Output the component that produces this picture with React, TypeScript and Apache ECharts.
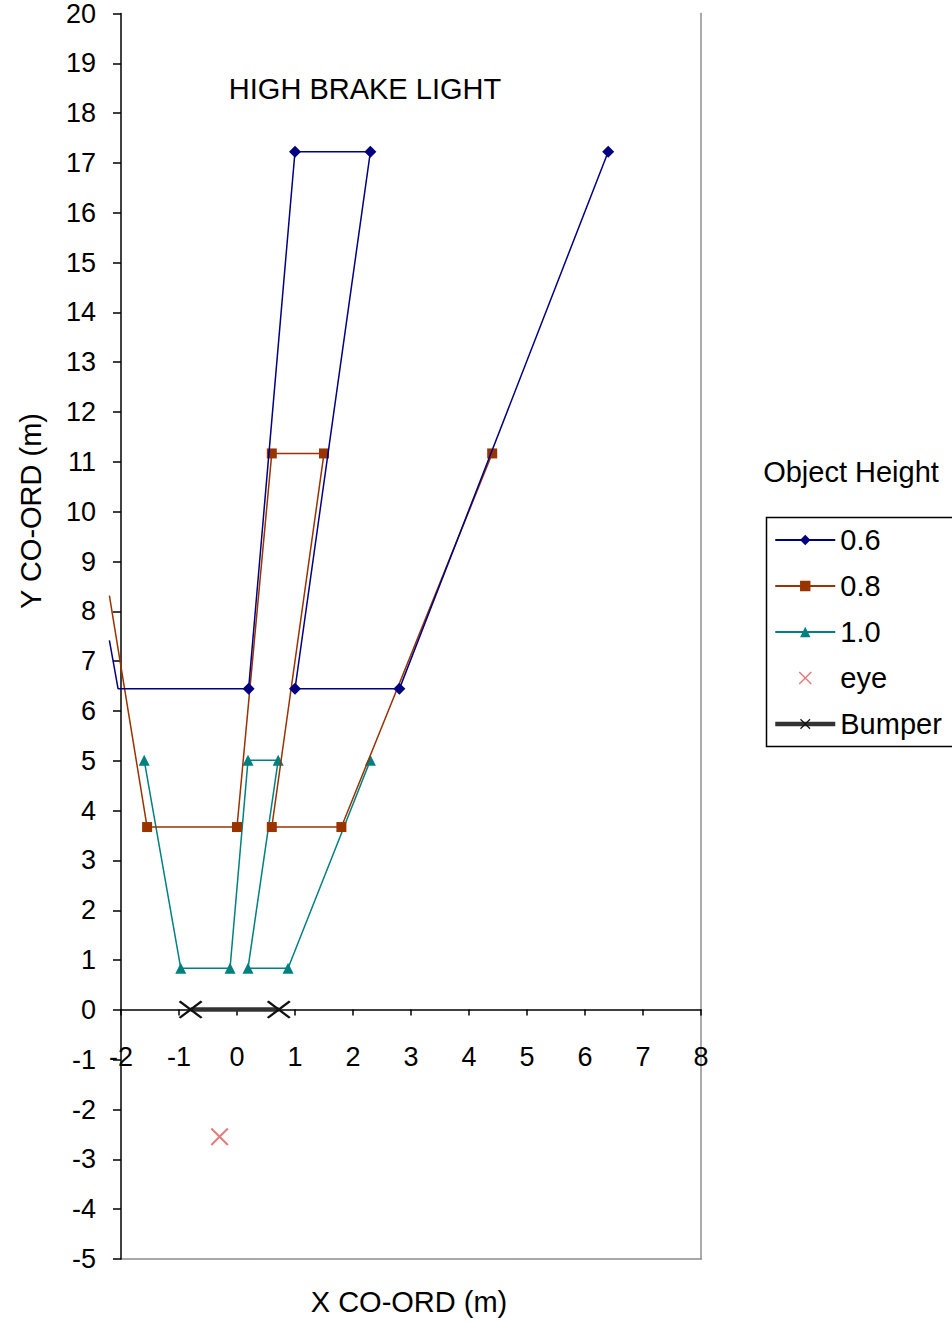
import React, { useEffect, useRef } from 'react';
import * as echarts from 'echarts';

const FONT = '"Liberation Sans", Arial, Helvetica, sans-serif';

// Axis ranges / ticks
const xMin = -2;
const xMax = 8;
const yMin = -5;
const yMax = 20;
const tickStep = 1;
// lines are drawn a little beyond the left axis (as in the original chart)
const lineClipXMin = -2.2;

// Series names (legend order)
const seriesNames = ['0.6', '0.8', '1.0', 'eye', 'Bumper'];

// Object height 0.6
const h06X = [-2.2, -2.05, 0.2, 1.0, 2.3, 1.0, 2.8, 6.4];
const h06Y = [7.4, 6.43, 6.43, 17.2, 17.2, 6.43, 6.43, 17.2];
const h06Marked = [false, false, true, true, true, true, true, true];

// Object height 0.8
const h08X = [-2.2, -1.55, 0.0, 0.6, 1.5, 0.6, 1.8, 4.4];
const h08Y = [8.3, 3.66, 3.66, 11.15, 11.15, 3.66, 3.66, 11.15];
const h08Marked = [false, true, true, true, true, true, true, true];

// Object height 1.0
const h10X = [-1.6, -0.97, -0.12, 0.19, 0.71, 0.19, 0.88, 2.3];
const h10Y = [5.0, 0.83, 0.83, 5.0, 5.0, 0.83, 0.83, 5.0];

// Eye position
const eyeX = [-0.3];
const eyeY = [-2.55];

// Bumper
const bumperX = [-0.8, 0.72];
const bumperY = [0, 0];

const titleText = 'HIGH BRAKE LIGHT';
const xTitle = 'X CO-ORD (m)';
const yTitle = 'Y CO-ORD (m)';
const legendTitle = 'Object Height';

const C06 = '#000080';
const C08 = '#993300';
const C10 = '#008080';
const CEYE = '#e05a5a';
const CBUMP = '#333333';

const CROSS = 'path://M0,0.8L0.8,0L10,9.2L9.2,10Z M9.2,0L10,0.8L0.8,10L0,9.2Z';

// plot area layout
const GL = 121;
const GT = 12;
const GW = 580;
const GH = 1247;
const pxPerX = GW / (xMax - xMin);
const GL2 = GL - (xMin - lineClipXMin) * pxPerX;
const GW2 = GW + (xMin - lineClipXMin) * pxPerX;
const zeroOffset = -((0 - yMin) / (yMax - yMin)) * GH;

function pts(xs: number[], ys: number[], marked?: boolean[]) {
  return xs.map((x, i) => {
    const item: any = { value: [x, ys[i]] };
    if (marked && !marked[i]) item.symbol = 'none';
    return item;
  });
}

export default function App() {
  const ref = useRef<HTMLDivElement>(null);
  useEffect(() => {
    const chart = echarts.init(ref.current!, null, { renderer: 'svg' });
    const textStyle = (text: string) => ({
      text,
      fontSize: 29,
      fontFamily: FONT,
      fill: '#000',
      align: 'center',
      verticalAlign: 'middle',
      textAlign: 'center',
      textVerticalAlign: 'middle',
    });
    const option: any = {
      animation: false,
      backgroundColor: '#ffffff',
      textStyle: { fontFamily: FONT },
      grid: [
        { left: GL, top: GT, width: GW, height: GH, show: false },
        { left: GL2, top: GT, width: GW2, height: GH, show: false },
      ],
      xAxis: [
        {
          type: 'value',
          gridIndex: 0,
          min: xMin,
          max: xMax,
          interval: tickStep,
          position: 'bottom',
          offset: zeroOffset,
          axisLine: { show: true, onZero: false, lineStyle: { color: '#000', width: 1.5 } },
          axisTick: { show: true, inside: false, length: 6, lineStyle: { color: '#000', width: 1.5 } },
          axisLabel: { show: true, margin: 34, color: '#000', fontSize: 27, fontFamily: FONT },
          splitLine: { show: false },
          z: 3,
        },
        {
          type: 'value',
          gridIndex: 0,
          min: xMin,
          max: xMax,
          interval: tickStep,
          position: 'bottom',
          axisLine: { show: true, onZero: false, lineStyle: { color: '#8c8c8c', width: 1.5 } },
          axisTick: { show: false },
          axisLabel: { show: false },
          splitLine: { show: false },
        },
        {
          type: 'value',
          gridIndex: 1,
          min: lineClipXMin,
          max: xMax,
          show: false,
          axisLine: { onZero: false },
          splitLine: { show: false },
        },
      ],
      yAxis: [
        {
          type: 'value',
          gridIndex: 0,
          min: yMin,
          max: yMax,
          interval: tickStep,
          position: 'left',
          axisLine: { show: true, onZero: false, lineStyle: { color: '#000', width: 1.5 } },
          axisTick: { show: true, inside: false, length: 8, lineStyle: { color: '#000', width: 1.5 } },
          axisLabel: { show: true, margin: 25, color: '#000', fontSize: 27, fontFamily: FONT },
          splitLine: { show: false },
          z: 3,
        },
        {
          type: 'value',
          gridIndex: 0,
          min: yMin,
          max: yMax,
          interval: tickStep,
          position: 'right',
          axisLine: { show: true, onZero: false, lineStyle: { color: '#8c8c8c', width: 1.5 } },
          axisTick: { show: false },
          axisLabel: { show: false },
          splitLine: { show: false },
        },
        {
          type: 'value',
          gridIndex: 1,
          min: yMin,
          max: yMax,
          show: false,
          axisLine: { onZero: false },
          splitLine: { show: false },
        },
      ],
      legend: {
        orient: 'vertical',
        left: 773,
        top: 525,
        padding: 0,
        itemWidth: 60,
        itemHeight: 13,
        itemGap: 16,
        data: seriesNames.map((n, i) =>
          i === 4 ? { name: n, lineStyle: { width: 4.5, color: CBUMP } } : { name: n }
        ),
        textStyle: { fontSize: 29, lineHeight: 30, color: '#000', fontFamily: FONT },
      },
      graphic: [
        {
          type: 'rect',
          left: 764,
          top: 515,
          shape: { width: 220, height: 229 },
          style: { fill: 'none', stroke: '#000', lineWidth: 1.5 },
          silent: true,
        },
        { type: 'text', x: 365, y: 89, style: textStyle(titleText) },
        { type: 'text', x: 409, y: 1302, style: textStyle(xTitle) },
        { type: 'text', x: 31, y: 511, rotation: Math.PI / 2, style: textStyle(yTitle) },
        { type: 'text', x: 851, y: 472, style: textStyle(legendTitle) },
      ],
      series: [
        {
          name: seriesNames[0],
          type: 'line',
          xAxisIndex: 2,
          yAxisIndex: 2,
          symbol: 'diamond',
          symbolSize: 12,
          data: pts(h06X, h06Y, h06Marked),
          lineStyle: { color: C06, width: 1.5 },
          itemStyle: { color: C06 },
          z: 5,
        },
        {
          name: seriesNames[1],
          type: 'line',
          xAxisIndex: 2,
          yAxisIndex: 2,
          symbol: 'rect',
          symbolSize: 10,
          data: pts(h08X, h08Y, h08Marked),
          lineStyle: { color: C08, width: 1.5 },
          itemStyle: { color: C08 },
          z: 4,
        },
        {
          name: seriesNames[2],
          type: 'line',
          xAxisIndex: 2,
          yAxisIndex: 2,
          symbol: 'triangle',
          symbolSize: 11,
          data: pts(h10X, h10Y),
          lineStyle: { color: C10, width: 1.5 },
          itemStyle: { color: C10 },
          z: 3,
        },
        {
          name: seriesNames[3],
          type: 'scatter',
          xAxisIndex: 2,
          yAxisIndex: 2,
          symbol: CROSS,
          symbolSize: 18,
          data: pts(eyeX, eyeY),
          itemStyle: { color: CEYE },
        },
        {
          name: seriesNames[4],
          type: 'line',
          xAxisIndex: 2,
          yAxisIndex: 2,
          symbol: CROSS,
          symbolSize: [24, 18],
          data: pts(bumperX, bumperY),
          lineStyle: { color: CBUMP, width: 4.5 },
          itemStyle: { color: '#111' },
          z: 6,
        },
      ],
    };
    chart.setOption(option);
    return () => chart.dispose();
  }, []);
  return (
    <div
      ref={ref}
      style={{ position: 'absolute', left: 0, top: 0, width: 952, height: 1324, background: '#fff' }}
    />
  );
}
